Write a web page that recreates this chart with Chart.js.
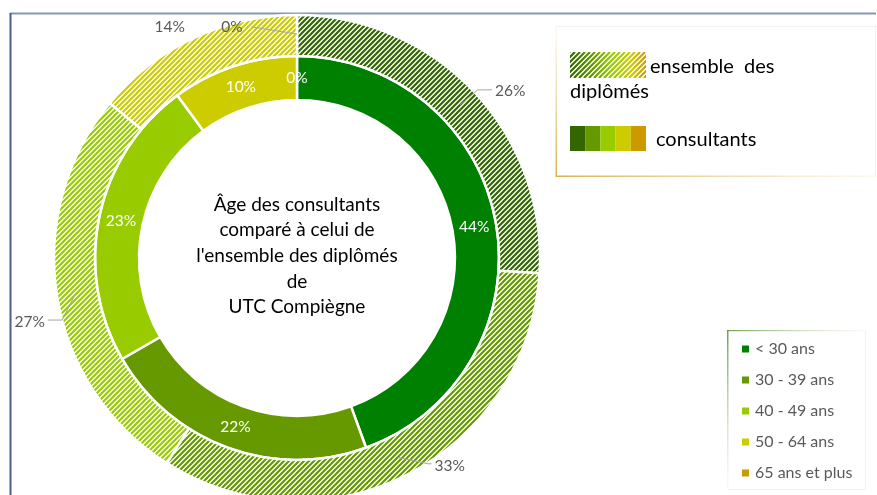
<!DOCTYPE html>
<html><head><meta charset="utf-8">
<script src="https://cdn.jsdelivr.net/npm/chart.js@4"></script>
<style>
html,body{margin:0;padding:0;background:#fff;overflow:hidden;width:877px;height:495px}
#c{position:absolute;left:0;top:0;width:877px;height:520px}
</style></head>
<body><canvas id="c" width="877" height="520"></canvas>
<script>
// ---- data ----
const categories = ['< 30 ans', '30 - 39 ans', '40 - 49 ans', '50 - 64 ans', '65 ans et plus'];
const diplomes = [26, 33, 27, 14, 0];      // outer ring: ensemble des diplômés
const consultants = [44, 22, 23, 10, 0];   // inner ring: consultants
const seriesNames = ['ensemble  des', 'diplômés', 'consultants'];
const centerLines = ['Âge des consultants', 'comparé à celui de', "l'ensemble des diplômés", 'de', 'UTC Compiègne'];

// ---- styles ----
const ringColors = ['#008000', '#669900', '#99cc00', '#cccc00', '#cc9900'];
const hatchColors = ['#336600', '#669900', '#99cc00', '#cccc00', '#cc9900'];
const swatchColors = ['#336600', '#669900', '#99cc00', '#cccc00', '#cc9900'];
const FONT = 'Lato, "Open Sans", sans-serif';
// outer label placement (deg offset from slice middle, px beyond outer radius)
const outerLabelCfg = [
  {da: 5.1, dr: 28, leader: {r0: 224, ea: 0.3, re: 247, gap: 3}},
  {da: -9.3, dr: 15, leader: {r0: 224, ea: -5.5, re: 244, gap: 3}},
  {da: -4.5, dr: 32, leader: {r0: 224, ea: -5.8, re: 243, gap: 3}},
  {da: -3.6, dr: 21, leader: null},
  {da: -15.7, dr: -3, leader: {r0: 224, straight: true, gap: 9}}
];

function hatch(color) {
  const s = 5;
  const c = document.createElement('canvas');
  c.width = s; c.height = s;
  const g = c.getContext('2d');
  g.fillStyle = '#fff'; g.fillRect(0, 0, s, s);
  g.strokeStyle = color; g.lineWidth = 2.2; g.lineCap = 'square';
  g.beginPath();
  g.moveTo(-1, 1); g.lineTo(1, -1);
  g.moveTo(0, s); g.lineTo(s, 0);
  g.moveTo(s - 1, s + 1); g.lineTo(s + 1, s - 1);
  g.stroke();
  return document.getElementById('c').getContext('2d').createPattern(c, 'repeat');
}

const deco = {
  id: 'deco',
  beforeDraw(chart) {
    const ctx = chart.ctx;
    ctx.save();
    ctx.fillStyle = '#fff';
    ctx.fillRect(0, 0, chart.width, chart.height);
    ctx.fillStyle = '#8797ad';
    ctx.fillRect(10, 12.5, 866, 2);
    ctx.fillStyle = '#4f6080';
    ctx.fillRect(9.5, 13, 2, 490);
    ctx.restore();
  },
  afterDraw(chart) {
    const ctx = chart.ctx;
    ctx.save();
    const m0 = chart.getDatasetMeta(0), m1 = chart.getDatasetMeta(1);
    const arc0 = m0.data[0];
    const cx = arc0.x, cy = arc0.y;
    const pol = (a, r) => ({x: cx + r * Math.cos(a), y: cy + r * Math.sin(a)});

    // inner labels
    ctx.font = '15.5px ' + FONT;
    ctx.textAlign = 'center'; ctx.textBaseline = 'middle';
    ctx.fillStyle = '#ffffff';
    m1.data.forEach((a, i) => {
      const mid = (a.startAngle + a.endAngle) / 2;
      const p = pol(mid, (a.innerRadius + a.outerRadius) / 2);
      ctx.fillText(consultants[i] + '%', p.x, p.y);
    });

    // outer labels
    m0.data.forEach((a, i) => {
      const cfg = outerLabelCfg[i];
      const mid = (a.startAngle + a.endAngle) / 2;
      const txt = diplomes[i] + '%';
      const tp = pol(mid + cfg.da * Math.PI / 180, a.outerRadius + cfg.dr);
      ctx.font = '15.5px ' + FONT;
      const w = ctx.measureText(txt).width;
      if (cfg.leader) {
        const L = cfg.leader;
        const p0 = pol(mid, L.r0);
        const edgeX = tp.x > p0.x ? tp.x - w / 2 - L.gap : tp.x + w / 2 + L.gap;
        ctx.strokeStyle = '#a6a6a6'; ctx.lineWidth = 1;
        ctx.beginPath();
        ctx.moveTo(p0.x, p0.y);
        if (L.straight) {
          ctx.lineTo(edgeX, tp.y);
        } else {
          const p1 = pol(mid + L.ea * Math.PI / 180, L.re);
          ctx.lineTo(p1.x, p1.y);
          ctx.lineTo(edgeX, p1.y);
        }
        ctx.stroke();
      }
      ctx.fillStyle = '#595959';
      ctx.textAlign = 'center'; ctx.textBaseline = 'middle';
      ctx.fillText(txt, tp.x, tp.y);
    });

    // center text
    ctx.fillStyle = '#000';
    ctx.font = '19px ' + FONT;
    ctx.textAlign = 'center'; ctx.textBaseline = 'middle';
    const lineYs = [205, 230, 256, 282, 307];
    centerLines.forEach((t, i) => ctx.fillText(t, cx, lineYs[i]));

    // legend box 1
    let g = ctx.createLinearGradient(556, 26, 556, 177);
    g.addColorStop(0, 'rgba(230,200,120,0.1)'); g.addColorStop(1, 'rgba(215,170,60,0.9)');
    ctx.fillStyle = g; ctx.fillRect(555.5, 26, 1.5, 151);
    g = ctx.createLinearGradient(556, 0, 877, 0);
    g.addColorStop(0, 'rgba(215,170,60,0.9)'); g.addColorStop(1, 'rgba(230,200,120,0.1)');
    ctx.fillStyle = g; ctx.fillRect(556, 175.5, 321, 1.5);
    ctx.fillStyle = '#f2f2f2';
    ctx.fillRect(557, 26, 320, 1); ctx.fillRect(875, 26, 1, 150);
    const sx = 570, sy = 52, sw = 76, sh = 26;
    g = ctx.createLinearGradient(sx, 0, sx + sw, 0);
    g.addColorStop(0, '#336600'); g.addColorStop(0.3, '#669900'); g.addColorStop(0.55, '#99cc00');
    g.addColorStop(0.8, '#cccc00'); g.addColorStop(1, '#cc9900');
    ctx.save();
    ctx.beginPath(); ctx.rect(sx, sy, sw, sh); ctx.clip();
    ctx.fillStyle = '#fff'; ctx.fillRect(sx, sy, sw, sh);
    ctx.strokeStyle = g; ctx.lineWidth = 2.2;
    ctx.beginPath();
    for (let k = -sh; k < sw + sh; k += 5) { ctx.moveTo(sx + k, sy + sh); ctx.lineTo(sx + k + sh, sy); }
    ctx.stroke();
    ctx.restore();
    ctx.fillStyle = '#000'; ctx.font = '20px ' + FONT;
    ctx.textAlign = 'left'; ctx.textBaseline = 'middle';
    ctx.fillText(seriesNames[0], 650, 67);
    ctx.fillText(seriesNames[1], 570, 92);
    swatchColors.forEach((c, i) => { ctx.fillStyle = c; ctx.fillRect(570 + i * 15.2, 126, 15.2, 25); });
    ctx.fillStyle = '#000';
    ctx.fillText(seriesNames[2], 656, 140);

    // legend box 2
    g = ctx.createLinearGradient(0, 330, 0, 490);
    g.addColorStop(0, 'rgba(100,150,60,0.9)'); g.addColorStop(1, 'rgba(200,220,180,0.1)');
    ctx.fillStyle = g; ctx.fillRect(727, 330, 1.5, 160);
    g = ctx.createLinearGradient(727, 0, 866, 0);
    g.addColorStop(0, 'rgba(100,150,60,0.9)'); g.addColorStop(1, 'rgba(220,230,210,0.2)');
    ctx.fillStyle = g; ctx.fillRect(727, 330, 139, 1.2);
    ctx.fillStyle = '#f2f2f2';
    ctx.fillRect(865, 331, 1, 159); ctx.fillRect(728, 489, 138, 1);
    ctx.font = '16px ' + FONT; ctx.textBaseline = 'middle'; ctx.textAlign = 'left';
    categories.forEach((c, i) => {
      const y = 349 + i * 31;
      ctx.fillStyle = ringColors[i]; ctx.fillRect(742, y - 3.5, 7, 7);
      ctx.fillStyle = '#595959'; ctx.fillText(c, 755, y);
    });
    ctx.restore();
  }
};

new Chart(document.getElementById('c'), {
  type: 'doughnut',
  data: {
    labels: categories,
    datasets: [
      {label: 'ensemble des diplômés', data: diplomes, backgroundColor: hatchColors.map(hatch),
       borderColor: '#fff', borderWidth: 2.5, weight: 41},
      {label: 'consultants', data: consultants, backgroundColor: ringColors,
       borderColor: '#fff', borderWidth: 2.5, weight: 44}
    ]
  },
  options: {
    responsive: false,
    animation: false,
    radius: 243,
    cutout: '65%',
    layout: {padding: {left: 53, right: 336, top: 14, bottom: 18}},
    plugins: {legend: {display: false}, tooltip: {enabled: false}}
  },
  plugins: [deco]
});
</script>
</body></html>
